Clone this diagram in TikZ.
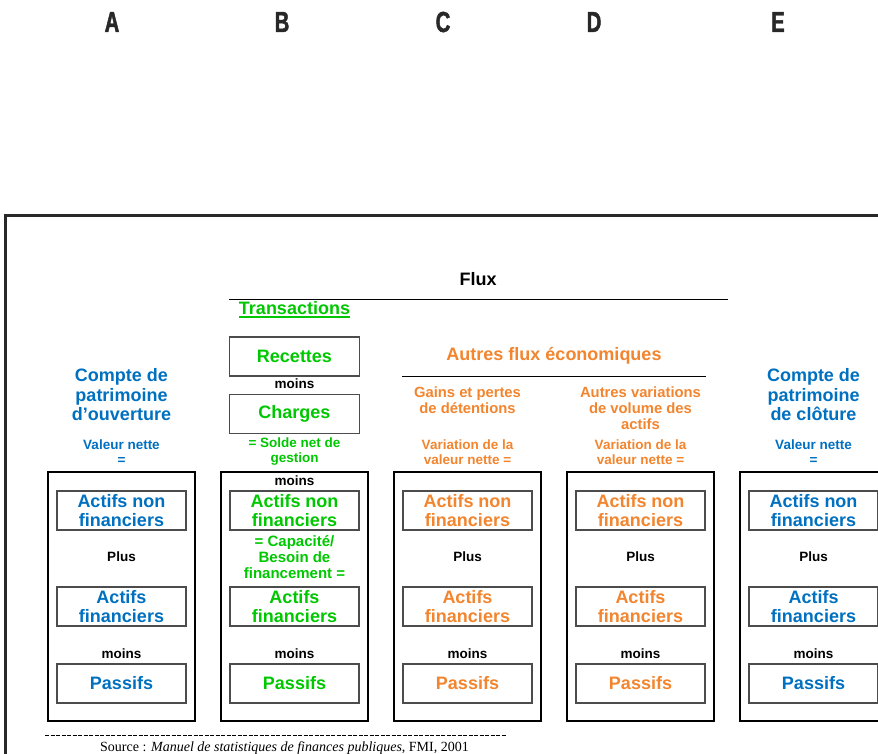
\documentclass[tikz,border=0pt]{standalone}
\usepackage{fontspec}
\setmainfont{Liberation Sans}
\newfontfamily\letterf[FakeStretch=0.7, FakeBold=1.6]{Liberation Sans Bold}
\newfontfamily\seriff{Liberation Serif}
\definecolor{cblue}{RGB}{0,112,192}
\definecolor{cgreen}{RGB}{0,200,0}
\definecolor{corange}{RGB}{242,133,46}
\definecolor{cframe}{RGB}{40,40,40}
\tikzset{
  lab/.style={inner sep=0pt, align=center, font=\bfseries},
  big/.style={lab, font=\fontsize{18}{19.5}\selectfont\bfseries},
  small/.style={lab, font=\fontsize{13.5}{15}\selectfont\bfseries},
  wide/.style={lab, font=\fontsize{14.8}{16}\selectfont\bfseries},
  col/.style={inner sep=0pt, text=cframe, font=\fontsize{29}{30}\letterf},
  outerbox/.style={draw=black, line width=1.2pt, minimum width=147pt, minimum height=249pt, inner sep=0pt},
  innerbox/.style={draw=black!70, line width=1.4pt, minimum width=129pt, minimum height=39pt, inner sep=0pt, align=center, font=\fontsize{18}{19}\selectfont\bfseries},
}
\begin{document}
\begin{tikzpicture}[x=1pt, y=-1pt]
\clip (0,0) rectangle (878,753);
\fill[white] (0,0) rectangle (878,753);
% column letters
\node[col] (lA) at (112,22) {A};
\node[col] (lB) at (282,22) {B};
\node[col] (lC) at (443,22) {C};
\node[col] (lD) at (594,22) {D};
\node[col] (lE) at (778,22) {E};
% frame
\draw[cframe, line width=3pt] (5,760) -- (5,215) -- (890,215);
% Flux
\node[big] (flux) at (478,279) {Flux};
\draw[line width=1pt] (229,299) -- (728,299);
\node[big, text=cgreen] (trans) at (294.5,308) {Transactions};
\draw[cgreen, line width=1.3pt] ([yshift=-2.5pt]trans.base west) -- ([yshift=-2.5pt]trans.base east);
\node[innerbox, minimum width=130pt, text=cgreen] (rec) at (294.5,356.5) {Recettes};
\node[small] (m1) at (294.5,384) {moins};
\node[innerbox, minimum width=130pt, text=cgreen] (cha) at (294.5,414) {Charges};
\node[small, text=cgreen] (solde) at (294.5,452) {= Solde net de\\gestion};
% autres flux
\node[big, text=corange] (aut) at (554,356) {Autres flux économiques};
\draw[line width=1pt] (402,376) -- (706,376);
\node[wide, text=corange] (gains) at (467.5,400) {Gains et pertes\\de détentions};
\node[wide, text=corange] (avar) at (640.5,408) {Autres variations\\de volume des\\actifs};
\node[small, text=corange] (varC) at (467.5,452) {Variation de la\\valeur nette =};
\node[small, text=corange] (varD) at (640.5,452) {Variation de la\\valeur nette =};
% comptes
\node[big, text=cblue] (cpA) at (121.5,395) {Compte de\\patrimoine\\d’ouverture};
\node[big, text=cblue] (cpE) at (813.5,395) {Compte de\\patrimoine\\de clôture};
\node[small, text=cblue] (vnA) at (121.5,452) {Valeur nette\\=};
\node[small, text=cblue] (vnE) at (813.5,452) {Valeur nette\\=};
% columns of boxes
\foreach \c/\x/\colr in {A/121.5/cblue, B/294.5/cgreen, C/467.5/corange, D/640.5/corange, E/813.5/cblue}{
  \node[outerbox] (out\c) at (\x,596.5) {};
  \node[innerbox, text=\colr] (anf\c) at (\x,510.5) {Actifs non\\financiers};
  \node[innerbox, text=\colr] (af\c) at (\x,606.5) {Actifs\\financiers};
  \node[small] (mo\c) at (\x,654) {moins};
  \node[innerbox, text=\colr] (pa\c) at (\x,683.5) {Passifs};
}
\foreach \c/\x in {A/121.5, C/467.5, D/640.5, E/813.5}{
  \node[small] (pl\c) at (\x,557) {Plus};
}
\node[small] (mtopB) at (294.5,481) {moins};
\node[lab, text=cgreen, font=\fontsize{15}{16}\selectfont\bfseries] (cap) at (294.5,557) {= Capacité/\\Besoin de\\financement =};
% source
\draw[line width=0.8pt, dash pattern=on 4pt off 1.5pt] (45,735) -- (506,735);
\node[anchor=base west, inner sep=0pt, font=\fontsize{14}{16}\seriff] (src) at (100,751.5) {Source : \textit{Manuel de statistiques de finances publiques}, FMI, 2001};
\end{tikzpicture}
\end{document}
